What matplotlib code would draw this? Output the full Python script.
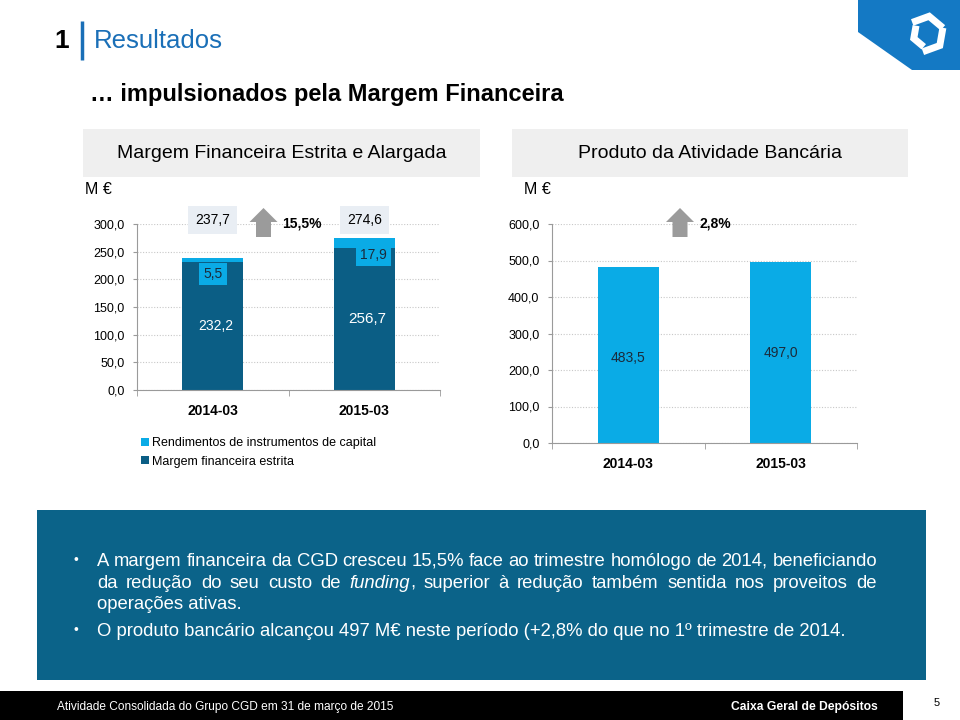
import matplotlib
matplotlib.use("Agg")
import matplotlib.pyplot as plt
from matplotlib.patches import Rectangle, Polygon
import numpy as np

plt.rcParams['font.family'] = ['Liberation Sans', 'DejaVu Sans']

# ---- data ----
periods = ["2014-03", "2015-03"]
margem_estrita = [232.2, 256.7]
rendimentos = [5.5, 17.9]
margem_alargada = [237.7, 274.6]
produto_bancario = [483.5, 497.0]
var_margem = "15,5%"
var_produto = "2,8%"
left_ticks = [0, 50, 100, 150, 200, 250, 300]
right_ticks = [0, 100, 200, 300, 400, 500, 600]
legend_labels = ["Rendimentos de instrumentos de capital", "Margem financeira estrita"]

DARK = "#0b5e85"
LIGHT = "#0aabe6"
BOXBLUE = "#0b6389"
GRID = "#c8c8c8"
SPINE = "#9a9a9a"

W, H = 960, 720
fmt = lambda v: f"{v:.1f}".replace(".", ",")

fig = plt.figure(figsize=(9.6, 7.2), dpi=100)

def rect_px(x0, y0, x1, y1):
    return [x0 / W, 1 - y1 / H, (x1 - x0) / W, (y1 - y0) / H]

# background overlay in pixel coords
bg = fig.add_axes([0, 0, 1, 1], zorder=0)
bg.set_xlim(0, W); bg.set_ylim(H, 0); bg.axis("off")

# title
bg.text(54, 41, "1", fontsize=19, fontweight="bold", color="black", va="center", ha="left")
bg.plot([82, 82], [21, 60], color="#1a6fb7", lw=2.5, solid_capstyle="butt")
bg.text(94, 41, "Resultados", fontsize=18.5, color="#1a6fb7", va="center", ha="left")
bg.text(90, 95, "… impulsionados pela Margem Financeira", fontsize=17, fontweight="bold",
        va="center", ha="left")

# logo corner
bg.add_patch(Polygon([(858, 0), (960, 0), (960, 70), (912, 70), (858, 32)], closed=True,
                     color="#1479c4", lw=0))
ang = np.radians(np.arange(0, 361, 60))
for k in range(3):
    a = ang[2 * k:2 * k + 3]
    r = 18 if k % 2 == 0 else 13
    bg.plot(926 + r * np.cos(a + 0.35), 34 - r * np.sin(a + 0.35), color="white", lw=5,
            solid_joinstyle="miter", solid_capstyle="butt")

# header boxes
bg.add_patch(Rectangle((83, 129), 397, 48, color="#efefef", lw=0))
bg.add_patch(Rectangle((512, 129), 396, 48, color="#efefef", lw=0))
bg.text(282, 154, "Margem Financeira Estrita e Alargada", fontsize=14, ha="center", va="center")
bg.text(710, 154, "Produto da Atividade Bancária", fontsize=14, ha="center", va="center")
bg.text(85, 190, "M €", fontsize=11.5, ha="left", va="center")
bg.text(524, 190, "M €", fontsize=11.5, ha="left", va="center")

# text box
bg.add_patch(Rectangle((37, 510), 889, 170, color=BOXBLUE, lw=0))
# footer
bg.add_patch(Rectangle((0, 691), 903, 29, color="black", lw=0))
bg.text(57, 707, "Atividade Consolidada do Grupo CGD em 31 de março de 2015", color="white",
        fontsize=8.6, ha="left", va="center")
bg.text(878, 707, "Caixa Geral de Depósitos", color="white", fontsize=8.7, fontweight="bold",
        ha="right", va="center")
bg.text(937, 703, "5", fontsize=8, ha="center", va="center")

# ---- bullet text (justified lines) ----
renderer = fig.canvas.get_renderer()
FS = 13.3
def seg_width(s, style):
    t = bg.text(0, 0, s, fontsize=FS, style=style)
    w = t.get_window_extent(renderer).width
    t.remove()
    return w

def justify_line(words, x0, x1, y):
    widths = [sum(seg_width(s, st) for s, st in wd) for wd in words]
    gap = (x1 - x0 - sum(widths)) / (len(words) - 1)
    x = x0
    for wd, w in zip(words, widths):
        xx = x
        for s, st in wd:
            bg.text(xx, y, s, fontsize=FS, style=st, color="white", ha="left", va="baseline")
            xx += seg_width(s, st)
        x += w + gap

def plain(text):
    return [[(w, "normal")] for w in text.split()]

X0, X1 = 97, 877
bg.text(76, 560, "•", fontsize=10, color="white", ha="center", va="center")
justify_line(plain("A margem financeira da CGD cresceu 15,5% face ao trimestre homólogo de 2014, beneficiando"),
             X0, X1, 566)
line2 = plain("da redução do seu custo de") + [[("funding", "italic"), (",", "normal")]] + \
    plain("superior à redução também sentida nos proveitos de")
justify_line(line2, X0, X1, 588)
bg.text(X0, 609, "operações ativas.", fontsize=FS, color="white", ha="left", va="baseline")
bg.text(76, 630, "•", fontsize=10, color="white", ha="center", va="center")
bg.text(X0, 636, "O produto bancário alcançou 497 M€ neste período (+2,8% do que no 1º trimestre de 2014.",
        fontsize=FS, color="white", ha="left", va="baseline")

# ---- charts ----
def style_axes(ax, ticks):
    ax.set_facecolor("none")
    ax.set_xlim(-0.5, 1.5)
    ax.set_ylim(ticks[0], ticks[-1])
    ax.set_yticks(ticks)
    ax.set_yticklabels([fmt(t) for t in ticks], fontsize=9)
    ax.set_xticks(range(len(periods)))
    ax.set_xticklabels(periods, fontsize=10, fontweight="bold")
    ax.set_xticks([-0.5, 0.5, 1.5], minor=True)
    ax.tick_params(axis="x", which="major", length=0, pad=10)
    ax.tick_params(axis="x", which="minor", length=4, color=SPINE)
    ax.tick_params(axis="y", length=3, color=SPINE, pad=6)
    for s in ["top", "right"]:
        ax.spines[s].set_visible(False)
    for s in ["left", "bottom"]:
        ax.spines[s].set_color(SPINE)
    ax.yaxis.grid(True, color=GRID, ls=(0, (1, 1.5)), lw=0.8)
    ax.set_axisbelow(True)

x = list(range(len(periods)))
axL = fig.add_axes(rect_px(137, 224, 440, 390), zorder=2)
style_axes(axL, left_ticks)
b1 = axL.bar(x, margem_estrita, width=0.4, color=DARK, label=legend_labels[1])
b2 = axL.bar(x, rendimentos, width=0.4, bottom=margem_estrita, color=LIGHT, label=legend_labels[0])
label_dx = [0.0, 0.06]
label_dy = [22, 13]
for i in x:
    axL.text(i + 0.02, margem_estrita[i] / 2, fmt(margem_estrita[i]), color="white",
             fontsize=10 + i, ha="center", va="center")
    axL.text(i + label_dx[i], margem_estrita[i] - label_dy[i], fmt(rendimentos[i]), fontsize=10,
             color="#1b2b3b", ha="center", va="center",
             bbox=dict(boxstyle="square,pad=0.3", fc=LIGHT, ec="none"))
    axL.text(i, 1.024, fmt(margem_alargada[i]), fontsize=10, ha="center", va="center",
             transform=axL.get_xaxis_transform(), clip_on=False,
             bbox=dict(boxstyle="square,pad=0.5", fc="#e9eef4", ec="none"))

axR = fig.add_axes(rect_px(552, 224, 857, 443), zorder=2)
style_axes(axR, right_ticks)
axR.bar(x, produto_bancario, width=0.4, color=LIGHT)
for i in x:
    axR.text(i, produto_bancario[i] / 2 - 8 + 6 * i, fmt(produto_bancario[i]), fontsize=10,
             color="#1b2b3b", ha="center", va="center")

# growth arrows (foreground overlay)
fg = fig.add_axes([0, 0, 1, 1], zorder=3)
fg.set_xlim(0, W); fg.set_ylim(H, 0); fg.axis("off")
def up_arrow(cx, top):
    fg.add_patch(Polygon([(cx - 14, top + 14), (cx, top), (cx + 14, top + 14), (cx + 7.5, top + 14),
                          (cx + 7.5, top + 29), (cx - 7.5, top + 29), (cx - 7.5, top + 14)],
                         closed=True, color="#9b9b9b", lw=0))
up_arrow(263.5, 208)
fg.text(282, 223, var_margem, fontsize=10, fontweight="bold", ha="left", va="center")
up_arrow(680, 208)
fg.text(700, 223, var_produto, fontsize=10, fontweight="bold", ha="left", va="center")

# legend
fig.legend(handles=[b2, b1], labels=legend_labels, loc="upper left",
           bbox_to_anchor=(141 / W, 1 - 437 / H), frameon=False, fontsize=9,
           handlelength=0.6, handleheight=0.6, handletextpad=0.3, labelspacing=0.55,
           borderaxespad=0, borderpad=0)

fig.savefig("out.png", dpi=100)
